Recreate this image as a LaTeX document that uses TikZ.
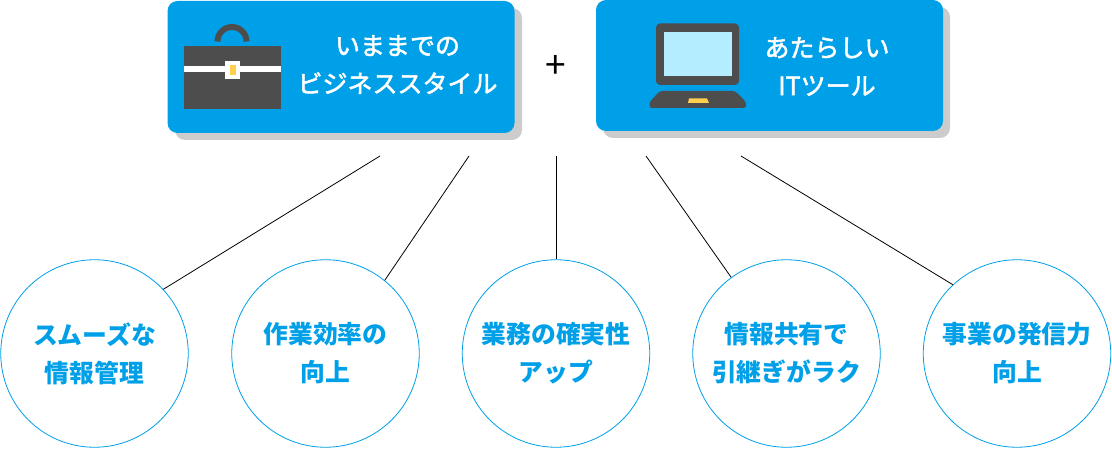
\documentclass[tikz,border=0pt]{standalone}
\usepackage{fontspec}
\setmainfont[FakeBold=2]{Noto Sans CJK JP}
\newfontfamily\circfont{Noto Sans CJK JP}
\newfontfamily\plusfont{Noto Sans CJK JP}
\definecolor{mainblue}{HTML}{00A0E9}
\definecolor{shadowgray}{HTML}{CCCCCC}
\definecolor{icondark}{HTML}{4D4D4D}
\definecolor{iconyellow}{HTML}{FFD04F}
\definecolor{screenblue}{HTML}{B3EDFF}
\tikzset{
  panel/.style={fill=mainblue,rounded corners=10pt,draw=none},
  panelshadow/.style={fill=shadowgray,rounded corners=10pt,draw=none},
  benefit/.style={circle,draw=mainblue,line width=0.8pt,fill=white,minimum size=187.5pt,inner sep=0pt,align=center,text=mainblue,font=\circfont\bfseries\fontsize{24.8pt}{38pt}\selectfont},
  paneltext/.style={text=white,align=center,inner sep=0pt,font=\fontsize{25pt}{38pt}\selectfont},
  plainlabel/.style={inner sep=0pt,font=\plusfont\fontsize{37pt}{38pt}\selectfont},
  link/.style={draw=black,line width=0.8pt}
}
\begin{document}
\begin{tikzpicture}[x=1pt,y=-1pt]
\useasboundingbox (0,0) rectangle (1112,449);
% panels
\fill[panelshadow] (175,8) rectangle (522,140);
\fill[panel] (167.5,1) rectangle (514.5,133);
\fill[panelshadow] (603,7) rectangle (950,138);
\fill[panel] (596,0) rectangle (943,131);
% briefcase
\draw[icondark,line width=6pt] (217.5,41.5) arc[start angle=180,end angle=360,radius=14.5];
\fill[icondark] (184,46) rectangle (281,109.5);
\fill[white] (184,66.5) rectangle (281,72.5);
\fill[white] (225,61) rectangle (240,79);
\fill[iconyellow] (229.5,65.5) rectangle (235.5,75);
% laptop
\fill[icondark,rounded corners=4pt] (656,23.5) rectangle (739,85);
\fill[screenblue] (663.5,32) rectangle (731.5,76);
\fill[icondark,rounded corners=2.5pt] (660,91) -- (735,91) -- (746,102) -- (746,108) -- (649.5,108) -- (649.5,102) -- cycle;
\fill[iconyellow] (689,98.5) -- (707,98.5) -- (709,103) -- (688,103) -- cycle;
% panel texts
\node[paneltext] (old) at (397.5,64.5) {いままでの\\ビジネススタイル};
\node[paneltext] (new) at (827,66.5) {あたらしい\\ITツール};
\node[plainlabel] (plus) at (556,67) {+};
% circles
\node[benefit] (c1) at (94.5,353.5) {スムーズな\\情報管理};
\node[benefit] (c2) at (325.5,353.5) {作業効率の\\向上};
\node[benefit] (c3) at (556,353.5) {業務の確実性\\アップ};
\node[benefit] (c4) at (786.5,353.5) {情報共有で\\引継ぎがラク};
\node[benefit] (c5) at (1017,353.5) {事業の発信力\\向上};
% connector free ends
\coordinate (s1) at (380,156);
\coordinate (s2) at (469,156);
\coordinate (s3) at (556,156);
\coordinate (s4) at (646,156);
\coordinate (s5) at (741,156);
\draw[link] (s1) -- (c1.43);
\draw[link] (s2) -- (c2.51);
\draw[link] (s3) -- (c3.90);
\draw[link] (s4) -- (c4.126);
\draw[link] (s5) -- (c5.133);
\end{tikzpicture}
\end{document}
